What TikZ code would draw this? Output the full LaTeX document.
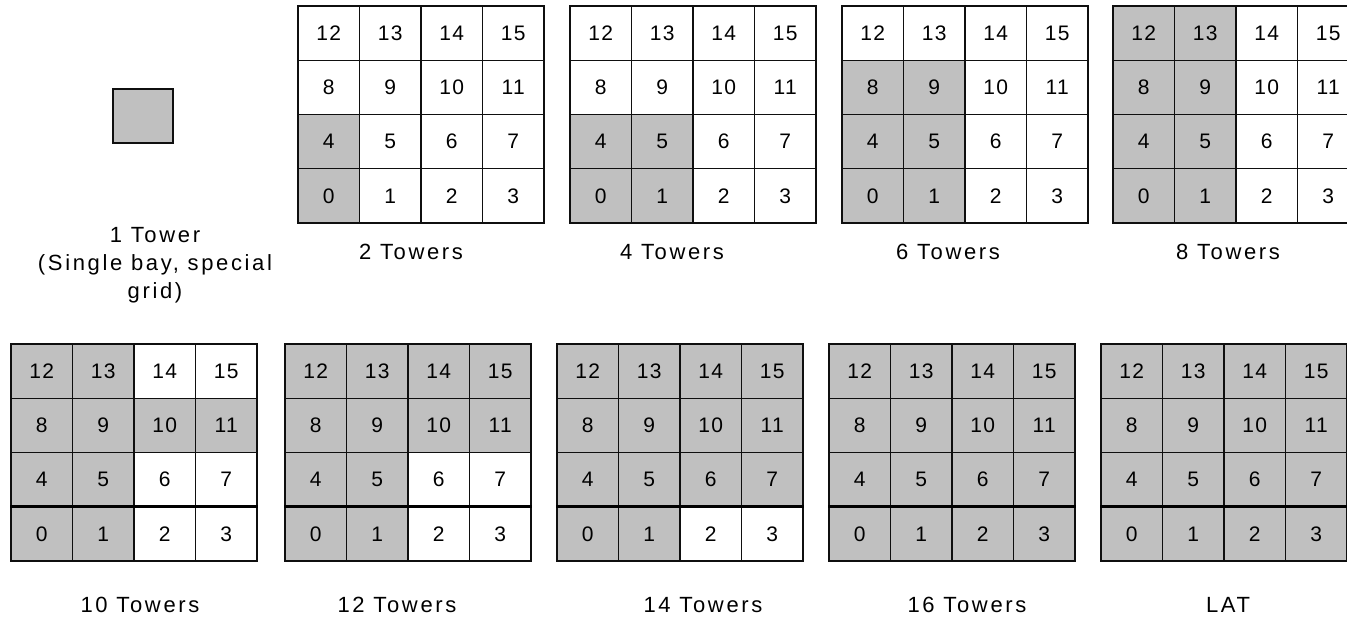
\documentclass[tikz,border=0pt]{standalone}
\usepackage{fontspec}
\setmainfont{Liberation Sans}[LetterSpace=12]
\newfontfamily\cellfont{Liberation Sans}[LetterSpace=6]
\usepackage{tikz}
\usetikzlibrary{positioning}
\definecolor{baygray}{RGB}{192,192,192}
\definecolor{gridline}{RGB}{15,15,15}
\newcommand{\cw}{61.5}
\newcommand{\ch}{54.25}
\tikzset{
  cell/.style  ={rectangle, draw=gridline, line width=1.4pt, inner sep=0pt,
                 minimum width=61.5pt, minimum height=54.25pt,
                 font=\cellfont\fontsize{21}{22}\selectfont},
  gcell/.style ={cell, fill=baygray},
  sepline/.style={draw=black, line width=3pt},
  lbl/.style   ={inner sep=0pt, font=\fontsize{22}{28}\selectfont}
}
% name, left, top, shaded bays
\newcommand{\towergrid}[4]{%
  \foreach \c in {#4}
    \fill[baygray] ({#2+mod(\c,4)*\cw},{#3+(3-div(\c,4))*\ch}) rectangle ++(\cw,\ch);
  \foreach \c in {0,...,15}
    \node[cell] (#1-\c) at ({#2+(mod(\c,4)+.5)*\cw},{#3+(3.5-div(\c,4))*\ch}) {\c};
}
\begin{document}
\begin{tikzpicture}[x=1pt, y=-1pt]
\useasboundingbox (0,0) rectangle (1347,617);
% single bay
\node[gcell, minimum width=60pt, minimum height=54pt] (t1) at (143,116) {};
\node[lbl, align=center, anchor=north] (t1-lbl) at (155,227) {1 Tower\\(Single bay, special\\grid)};

% top row
\towergrid{g2}{298}{6}{0,4}
\node[lbl] (g2-lbl) at (411,252) {2 Towers};
\towergrid{g4}{570}{6}{0,1,4,5}
\node[lbl] (g4-lbl) at (672,252) {4 Towers};
\towergrid{g6}{842}{6}{0,1,4,5,8,9}
\node[lbl] (g6-lbl) at (948,252) {6 Towers};
\towergrid{g8}{1113}{6}{0,1,4,5,8,9,12,13}
\node[lbl] (g8-lbl) at (1228,252) {8 Towers};

% bottom row
\towergrid{g10}{11}{344}{0,1,4,5,8,9,10,11,12,13}
\draw[sepline] (g10-0.north west) -- (g10-3.north east);
\node[lbl] (g10-lbl) at (140,605) {10 Towers};
\towergrid{g12}{285}{344}{0,1,4,5,8,9,10,11,12,13,14,15}
\draw[sepline] (g12-0.north west) -- (g12-3.north east);
\node[lbl] (g12-lbl) at (397,605) {12 Towers};
\towergrid{g14}{557}{344}{0,1,4,5,6,7,8,9,10,11,12,13,14,15}
\draw[sepline] (g14-0.north west) -- (g14-3.north east);
\node[lbl] (g14-lbl) at (703,605) {14 Towers};
\towergrid{g16}{829}{344}{0,...,15}
\draw[sepline] (g16-0.north west) -- (g16-3.north east);
\node[lbl] (g16-lbl) at (967,605) {16 Towers};
\towergrid{lat}{1101}{344}{0,...,15}
\draw[sepline] (lat-0.north west) -- (lat-3.north east);
\node[lbl] (lat-lbl) at (1228,605) {LAT};
\end{tikzpicture}
\end{document}
